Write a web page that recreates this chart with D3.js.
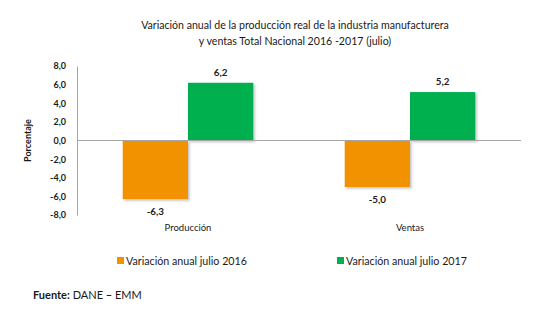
<!DOCTYPE html>
<html>
<head>
<meta charset="utf-8">
<script src="https://cdn.jsdelivr.net/npm/d3@7"></script>
<style>
  html, body { margin: 0; padding: 0; background: #fff; }
  svg { display: block; font-family: Lato, "Open Sans", sans-serif; }
</style>
</head>
<body>
<svg id="chart" width="536" height="327"></svg>
<script>
// Categories, series and axis ticks
const categories = ["Producción", "Ventas"];
const seriesNames = ["Variación anual julio 2016", "Variación anual julio 2017"];
const values2016 = [-6.3, -5.0];
const values2017 = [6.2, 5.2];
const yTicks = [8, 6, 4, 2, 0, -2, -4, -6, -8];
const colors = ["#F39200", "#00B050"];

const svg = d3.select("#chart");
const fmt = v => v.toFixed(1).replace(".", ",");

const plotLeft = 77, plotRight = 521, plotTop = 66, plotBottom = 215;

const x0 = d3.scaleBand().domain(categories).range([plotLeft, plotRight]).paddingInner(0).paddingOuter(0);
const x1 = d3.scaleBand().domain(seriesNames).range([0, x0.bandwidth()]).paddingInner(0).paddingOuter(0.7);
const y = d3.scaleLinear().domain([-8, 8]).range([plotBottom, plotTop]);

// Soft shadow under the bars
const defs = svg.append("defs");
const f = defs.append("filter").attr("id", "shadow").attr("x", "-10%").attr("y", "-10%").attr("width", "130%").attr("height", "130%");
f.append("feDropShadow").attr("dx", 1.5).attr("dy", 1.5).attr("stdDeviation", 1).attr("flood-color", "#000").attr("flood-opacity", 0.25);

// Title
const title = svg.append("text").attr("text-anchor", "middle").attr("font-size", 10.6).attr("fill", "#1a1a1a");
title.append("tspan").attr("x", 295).attr("y", 29).text("Variación anual de la producción real de la industria manufacturera");
title.append("tspan").attr("x", 295).attr("y", 45).text("y ventas Total Nacional 2016 -2017 (julio)");

// Y axis
const yAxis = svg.append("g").attr("transform", `translate(${plotLeft},0)`)
  .call(d3.axisLeft(y).tickValues(yTicks).tickSize(0).tickPadding(11).tickFormat(fmt));
yAxis.select(".domain").attr("stroke", "#a6a6a6");
yAxis.selectAll("text").attr("font-size", 9).attr("font-weight", "bold").attr("fill", "#1a1a1a").attr("font-family", "Lato, sans-serif");

svg.append("text").attr("transform", `translate(31,${y(0)}) rotate(-90)`).attr("text-anchor", "middle")
  .attr("font-size", 9).attr("font-weight", "bold").attr("fill", "#1a1a1a").text("Porcentaje");

// Bars
const data = categories.map((c, i) => ({ cat: c, vals: [values2016[i], values2017[i]] }));
const groups = svg.append("g").selectAll("g").data(data).join("g")
  .attr("transform", d => `translate(${x0(d.cat)},0)`);

groups.selectAll("rect").data(d => d.vals.map((v, j) => ({ v, s: seriesNames[j], j })))
  .join("rect")
  .attr("x", d => x1(d.s))
  .attr("width", x1.bandwidth())
  .attr("y", d => y(Math.max(0, d.v)))
  .attr("height", d => Math.abs(y(d.v) - y(0)))
  .attr("fill", d => colors[d.j])
  .attr("filter", "url(#shadow)");

// Value labels
groups.selectAll("text.val").data(d => d.vals.map((v, j) => ({ v, s: seriesNames[j] })))
  .join("text").attr("class", "val")
  .attr("x", d => x1(d.s) + x1.bandwidth() / 2)
  .attr("y", d => d.v >= 0 ? y(d.v) - 7 : y(d.v) + 16)
  .attr("text-anchor", "middle").attr("font-size", 9.8).attr("font-weight", "bold").attr("fill", "#1a1a1a")
  .text(d => fmt(d.v));

// Zero line
svg.append("line").attr("x1", plotLeft).attr("x2", plotRight).attr("y1", y(0)).attr("y2", y(0))
  .attr("stroke", "#a6a6a6").attr("stroke-width", 1);

// Category labels
svg.append("g").selectAll("text").data(categories).join("text")
  .attr("x", d => x0(d) + x0.bandwidth() / 2).attr("y", 231)
  .attr("text-anchor", "middle").attr("font-size", 9.5).attr("fill", "#1a1a1a").text(d => d);

// Legend
const legendX = [117, 337];
const lg = svg.append("g").selectAll("g").data(seriesNames).join("g")
  .attr("transform", (d, i) => `translate(${legendX[i]},257)`);
lg.append("rect").attr("width", 7).attr("height", 7).attr("fill", (d, i) => colors[i]);
lg.append("text").attr("x", 9).attr("y", 7.5).attr("font-size", 10.7).attr("fill", "#1a1a1a").text(d => d);

// Source note
const src = svg.append("text").attr("x", 33).attr("y", 299).attr("font-size", 11).attr("fill", "#1a1a1a");
src.append("tspan").attr("font-weight", "bold").text("Fuente:");
src.append("tspan").text(" DANE ");
src.append("tspan").attr("font-weight", "bold").text("–");
src.append("tspan").text(" EMM");
</script>
</body>
</html>
